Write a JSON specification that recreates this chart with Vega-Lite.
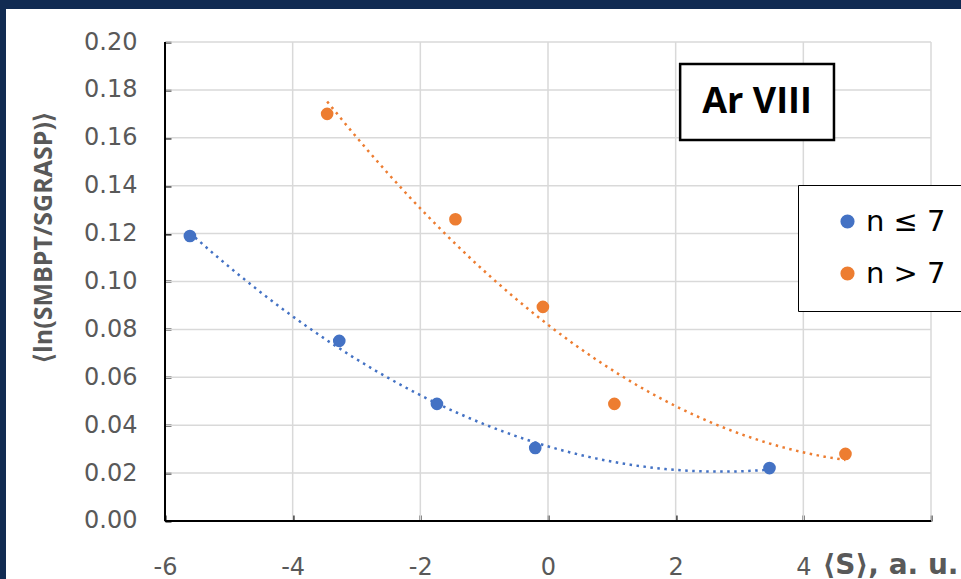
{
  "$schema": "https://vega.github.io/schema/vega-lite/v6.json",
  "width": 955,
  "height": 570,
  "autosize": {"type": "none"},
  "padding": {"left": 6, "top": 9, "right": 0, "bottom": 0},
  "background": "#112b52",
  "config": {
    "view": {"fill": "white", "stroke": null},
    "axis": {
      "domain": false,
      "grid": false,
      "zindex": 1,
      "tickColor": "black",
      "tickWidth": 2,
      "tickSize": 6,
      "labelFont": "DejaVu Sans",
      "labelFontSize": 24,
      "labelColor": "#595959",
      "titleFont": "Open Sans",
      "titleFontSize": 25,
      "titleFontWeight": "bold",
      "titleColor": "#595959"
    },
    "legend": {
      "strokeColor": "black",
      "fillColor": "white",
      "padding": 22,
      "symbolOffset": 13,
      "labelFont": "DejaVu Sans",
      "labelFontSize": 29,
      "labelColor": "black",
      "symbolSize": 160,
      "symbolType": "circle",
      "rowPadding": 22,
      "labelOffset": 4
    }
  },
  "datasets": {
    "points": [
      {"series": "n ≤ 7", "x": -5.61, "y": 0.119},
      {"series": "n ≤ 7", "x": -3.27, "y": 0.0752},
      {"series": "n ≤ 7", "x": -1.74, "y": 0.0489},
      {"series": "n ≤ 7", "x": -0.2, "y": 0.0305},
      {"series": "n ≤ 7", "x": 3.47, "y": 0.0221},
      {"series": "n > 7", "x": -3.46, "y": 0.17},
      {"series": "n > 7", "x": -1.45, "y": 0.126},
      {"series": "n > 7", "x": -0.08, "y": 0.0894},
      {"series": "n > 7", "x": 1.04, "y": 0.0489},
      {"series": "n > 7", "x": 4.66, "y": 0.028}
    ],
    "vgrid": [{"gx": -4}, {"gx": -2}, {"gx": 0}, {"gx": 2}, {"gx": 4}, {"gx": 6}],
    "hgrid": [{"gy": 0.02}, {"gy": 0.04}, {"gy": 0.06}, {"gy": 0.08}, {"gy": 0.1}, {"gy": 0.12}, {"gy": 0.14}, {"gy": 0.16}, {"gy": 0.18}, {"gy": 0.2}],
    "one": [{"k": 1}]
  },
  "layer": [
    {
      "data": {"name": "points"},
      "mark": {"type": "point", "filled": true, "opacity": 0, "size": 150},
      "encoding": {
        "x": {
          "field": "x", "type": "quantitative",
          "scale": {"domain": [-8.491, 6.47], "nice": false, "zero": false},
          "axis": {
            "orient": "bottom", "offset": -64,
            "values": [-6, -4, -2, 0, 2, 4, 6],
            "labelExpr": "datum.value == 6 ? '' : '' + datum.value",
            "labelPadding": 34,
            "title": "⟨S⟩, a. u.",
            "titleFont": "DejaVu Sans",
            "titleFontSize": 28,
            "titleX": 952, "titleY": 50,
            "titleAlign": "right", "titleBaseline": "middle", "titleAngle": 0
          }
        },
        "y": {
          "field": "y", "type": "quantitative",
          "scale": {"domain": [-0.02422, 0.21378], "nice": false, "zero": false},
          "axis": {
            "orient": "left", "offset": -165,
            "values": [0, 0.02, 0.04, 0.06, 0.08, 0.1, 0.12, 0.14, 0.16, 0.18, 0.2],
            "format": ".2f",
            "labelPadding": 28,
            "title": "⟨ln(SMBPT/SGRASP)⟩",
            "titleX": -128, "titleY": 228,
            "titleAngle": -90, "titleAlign": "center", "titleBaseline": "middle"
          }
        },
        "color": {
          "field": "series", "type": "nominal",
          "scale": {"domain": ["n ≤ 7", "n > 7"], "range": ["#4472c4", "#ed7d31"]},
          "legend": {"orient": "none", "legendX": 792, "legendY": 176, "title": null, "labelExpr": "datum.label + '      '"}
        }
      }
    },
    {
      "data": {"name": "vgrid"},
      "mark": {"type": "rule", "color": "#d9d9d9", "strokeWidth": 1.5},
      "encoding": {
        "x": {"field": "gx", "type": "quantitative"},
        "y": {"datum": 0, "type": "quantitative"},
        "y2": {"datum": 0.2}
      }
    },
    {
      "data": {"name": "hgrid"},
      "mark": {"type": "rule", "color": "#d9d9d9", "strokeWidth": 1.5},
      "encoding": {
        "y": {"field": "gy", "type": "quantitative"},
        "x": {"datum": -6, "type": "quantitative"},
        "x2": {"datum": 6}
      }
    },
    {
      "data": {"name": "points"},
      "transform": [{"regression": "y", "on": "x", "groupby": ["series"], "method": "poly", "order": 2}],
      "mark": {"type": "line", "strokeWidth": 2.5, "strokeDash": [2.5, 4.5]},
      "encoding": {
        "x": {"field": "x", "type": "quantitative"},
        "y": {"field": "y", "type": "quantitative"},
        "stroke": {"field": "series", "type": "nominal", "scale": {"domain": ["n ≤ 7", "n > 7"], "range": ["#4472c4", "#ed7d31"]}, "legend": null}
      }
    },
    {
      "data": {"name": "points"},
      "mark": {"type": "point", "filled": true, "opacity": 1, "size": 160},
      "encoding": {
        "x": {"field": "x", "type": "quantitative"},
        "y": {"field": "y", "type": "quantitative"},
        "fill": {"field": "series", "type": "nominal", "scale": {"domain": ["n ≤ 7", "n > 7"], "range": ["#4472c4", "#ed7d31"]}, "legend": null}
      }
    },
    {
      "data": {"name": "one"},
      "mark": {"type": "rule", "color": "black", "strokeWidth": 2},
      "encoding": {
        "x": {"datum": -6, "type": "quantitative"},
        "y": {"datum": 0, "type": "quantitative"},
        "y2": {"datum": 0.2}
      }
    },
    {
      "data": {"name": "one"},
      "mark": {"type": "rule", "color": "black", "strokeWidth": 2},
      "encoding": {
        "y": {"datum": 0, "type": "quantitative"},
        "x": {"datum": -6, "type": "quantitative"},
        "x2": {"datum": 6}
      }
    },
    {
      "data": {"name": "one"},
      "mark": {"type": "rect", "fill": "white", "stroke": "black", "strokeWidth": 2.5},
      "encoding": {
        "x": {"datum": 2.07, "type": "quantitative"},
        "x2": {"datum": 4.48},
        "y": {"datum": 0.1908, "type": "quantitative"},
        "y2": {"datum": 0.1591}
      }
    },
    {
      "data": {"name": "one"},
      "mark": {"type": "text", "text": "Ar VIII", "font": "Open Sans", "fontSize": 36, "fontWeight": "bold", "color": "black", "align": "center", "baseline": "middle"},
      "encoding": {
        "x": {"datum": 3.275, "type": "quantitative"},
        "y": {"datum": 0.175, "type": "quantitative"}
      }
    }
  ]
}
